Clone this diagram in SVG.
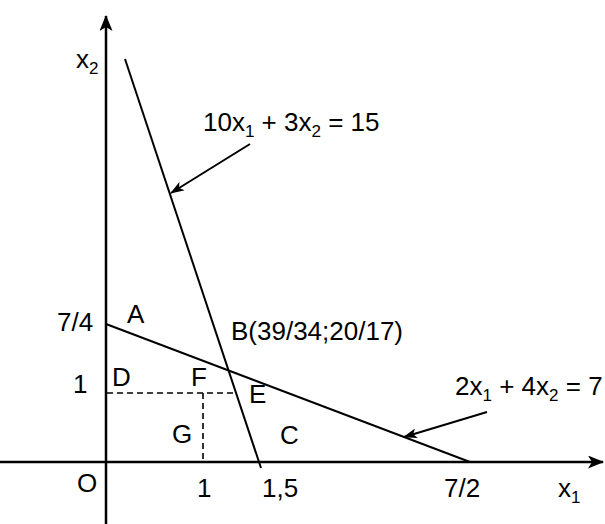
<svg xmlns="http://www.w3.org/2000/svg" width="605" height="524" viewBox="0 0 605 524">
<style>
text{font-family:"Liberation Sans",Arial,sans-serif;font-size:26px;fill:#000}
.sub{font-size:17px}
.ax{stroke:#000;stroke-width:2.5;fill:none}
.ln{stroke:#000;stroke-width:2;fill:none}
.ds{stroke:#000;stroke-width:1.6;fill:none;stroke-dasharray:6,4}
</style>
<defs>
<marker id="ah" viewBox="0 0 16 13" refX="15" refY="6.5" markerWidth="16" markerHeight="13" markerUnits="userSpaceOnUse" orient="auto">
<path d="M0,0 L16,6.5 L0,13 L4,6.5 z" fill="#000"/>
</marker>
<marker id="ph" viewBox="0 0 14 10" refX="13" refY="5" markerWidth="14" markerHeight="10" markerUnits="userSpaceOnUse" orient="auto">
<path d="M0,0 L14,5 L0,10 L3.5,5 z" fill="#000"/>
</marker>
</defs>
<g id="connectors">
<line class="ax" x1="106" y1="524" x2="106" y2="16" marker-end="url(#ah)"/>
<line class="ax" x1="0" y1="462" x2="603" y2="462" marker-end="url(#ah)"/>
<line class="ln" x1="125" y1="59" x2="261" y2="468"/>
<line class="ln" x1="106" y1="324" x2="470" y2="462"/>
<line class="ds" x1="107" y1="393" x2="236" y2="393"/>
<line class="ds" x1="203" y1="393" x2="203" y2="462"/>
<line class="ln" x1="250" y1="144" x2="171" y2="193" marker-end="url(#ph)"/>
<line class="ln" x1="487" y1="412" x2="404" y2="437" marker-end="url(#ph)"/>
</g>
<g id="labels">
<text x="76" y="68">x<tspan class="sub" dy="6">2</tspan></text>
<text x="203" y="131">10x<tspan class="sub" dy="6">1</tspan><tspan dy="-6"> + 3x</tspan><tspan class="sub" dy="6">2</tspan><tspan dy="-6"> = 15</tspan></text>
<text x="57" y="331">7/4</text>
<text x="127" y="323">A</text>
<text x="231" y="340">B(39/34;20/17)</text>
<text x="112" y="386">D</text>
<text x="191" y="386">F</text>
<text x="73" y="393">1</text>
<text x="249" y="403">E</text>
<text x="455" y="395">2x<tspan class="sub" dy="6">1</tspan><tspan dy="-6"> + 4x</tspan><tspan class="sub" dy="6">2</tspan><tspan dy="-6"> = 7</tspan></text>
<text x="172" y="443">G</text>
<text x="280" y="444">C</text>
<text x="77" y="492">O</text>
<text x="197" y="497">1</text>
<text x="262" y="497">1,5</text>
<text x="444" y="497">7/2</text>
<text x="558" y="497">x<tspan class="sub" dy="6">1</tspan></text>
</g>
</svg>
